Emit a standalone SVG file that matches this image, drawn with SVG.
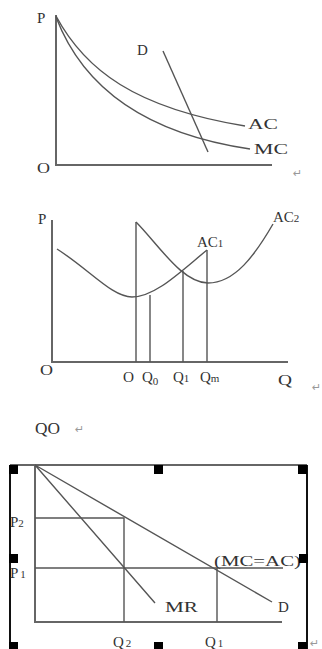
<svg xmlns="http://www.w3.org/2000/svg" width="322" height="649" viewBox="0 0 322 649">
<style>
.t{font-family:"Liberation Serif","Times New Roman",serif;font-size:15px;fill:#333}
.s{font-size:11px}
.ax{stroke:#666;stroke-width:2;fill:none}
.ln{stroke:#555;stroke-width:1.4;fill:none}
.rt{font-family:"DejaVu Sans",sans-serif;font-size:11px;fill:#999}
.h{fill:#000}
.fr{stroke:#111;stroke-width:2;fill:none}
</style>
<rect width="322" height="649" fill="#fff"/>
<g id="chart1">
<path class="ax" d="M56,15 V165 H272"/>
<path class="ln" d="M56,16 C85,70 135,108 245,126"/>
<path class="ln" d="M56,17 C80,80 135,132 250,149"/>
<path class="ln" d="M163,51 L208,152"/>
<text class="t" x="37" y="23">P</text>
<text class="t" x="37" y="173" textLength="13" lengthAdjust="spacingAndGlyphs">O</text>
<text class="t" x="137" y="55">D</text>
<text class="t" x="248" y="129" textLength="30" lengthAdjust="spacingAndGlyphs">AC</text>
<text class="t" x="254" y="154" textLength="34" lengthAdjust="spacingAndGlyphs">MC</text>
<text class="rt" x="293" y="177">↵</text>
</g>
<g id="chart2">
<path class="ax" d="M52,220 V362 H288"/>
<path class="ln" d="M57,249 C90,270 112,297 132,297 C155,297 180,272 207,250"/>
<path class="ln" d="M136,222 C158,244 182,283 208,283 C235,283 255,255 273,224"/>
<path class="ln" d="M136,222 V362 M150,295 V362 M183,271 V362 M207,250 V362"/>
<text class="t" x="38" y="224">P</text>
<text class="t" x="40" y="375" textLength="13" lengthAdjust="spacingAndGlyphs">O</text>
<text class="t" x="123" y="382" textLength="11" lengthAdjust="spacingAndGlyphs">O</text>
<text class="t" x="142" y="382">Q<tspan class="s" dy="3">0</tspan></text>
<text class="t" x="173" y="382">Q<tspan class="s">1</tspan></text>
<text class="t" x="200" y="382">Q<tspan class="s">m</tspan></text>
<text class="t" x="278" y="385" textLength="14" lengthAdjust="spacingAndGlyphs">Q</text>
<text class="t" x="197" y="247">AC<tspan class="s">1</tspan></text>
<text class="t" x="273" y="222">AC<tspan class="s">2</tspan></text>
<text class="rt" x="312" y="391">↵</text>
</g>
<g id="note">
<text class="t" x="35" y="434" style="font-size:16px" textLength="25" lengthAdjust="spacingAndGlyphs">QO</text>
<text class="rt" x="75" y="433">↵</text>
</g>
<g id="chart3">
<path class="fr" d="M10,465 V649 M307,465 V649"/>
<path d="M10,465 H307" stroke="#333" stroke-width="1.5"/>
<path class="ax" d="M35,465 V622 H282" stroke="#555"/>
<path class="ln" d="M35,465 L272,602 M35,465 L155,603"/>
<path class="ln" d="M35,518 H124 V622 M35,568 H283 M217,568 V622"/>
<text class="t" x="10" y="527">P<tspan class="s">2</tspan></text>
<text class="t" x="10" y="578">P<tspan class="s" dx="2">1</tspan></text>
<text class="t" x="113" y="647">Q<tspan class="s" dx="2">2</tspan></text>
<text class="t" x="205" y="647">Q<tspan class="s" dx="2">1</tspan></text>
<text class="t" x="165" y="612" textLength="33" lengthAdjust="spacingAndGlyphs">MR</text>
<text class="t" x="278" y="612">D</text>
<text class="t" x="214" y="566" textLength="87" lengthAdjust="spacingAndGlyphs">(MC=AC)</text>
<rect class="h" x="9" y="465" width="9" height="9"/>
<rect class="h" x="154" y="465" width="9" height="9"/>
<rect class="h" x="298" y="465" width="9" height="9"/>
<rect class="h" x="9" y="554" width="9" height="9"/>
<rect class="h" x="299" y="554" width="9" height="9"/>
<rect class="h" x="9" y="642" width="9" height="9"/>
<rect class="h" x="154" y="642" width="9" height="9"/>
<rect class="h" x="298" y="642" width="9" height="9"/>
<text class="rt" x="310" y="647">↵</text>
</g>
</svg>
